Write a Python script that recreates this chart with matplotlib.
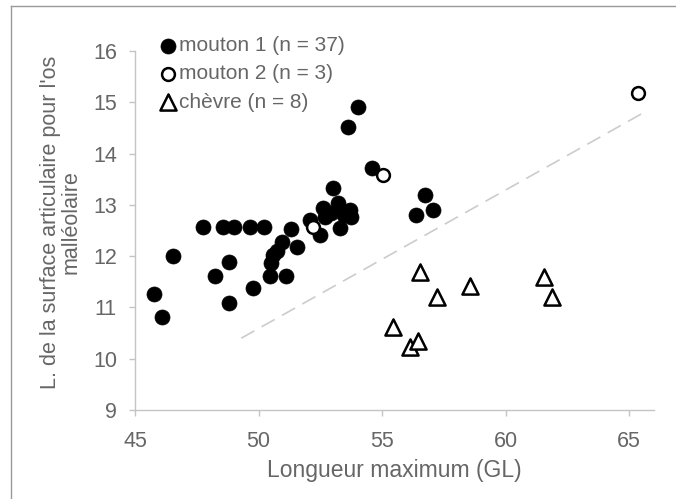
import matplotlib
matplotlib.use("Agg")
import matplotlib.pyplot as plt
from matplotlib.lines import Line2D

plt.rcParams["font.family"] = ["Liberation Sans", "DejaVu Sans"]

# mouton 1 (n = 37)
m1_x = [45.75, 46.08, 46.52, 47.76, 48.57, 49.00, 49.65, 50.22, 48.23, 48.80,
        48.80, 49.78, 50.45, 51.13, 50.52, 50.59, 50.93, 51.33, 51.57, 52.47,
        52.60, 53.01, 53.20, 53.69, 53.75, 53.28, 52.68, 52.07, 54.02, 53.62,
        54.60, 56.72, 56.38, 57.05, 52.95, 53.45, 50.75]
m1_y = [11.27, 10.82, 12.00, 12.56, 12.56, 12.56, 12.56, 12.56, 11.61, 11.89,
        11.09, 11.38, 11.61, 11.61, 11.86, 12.02, 12.28, 12.53, 12.17, 12.41,
        12.93, 13.32, 13.03, 12.90, 12.77, 12.54, 12.77, 12.70, 14.91, 14.51,
        13.71, 13.19, 12.80, 12.90, 12.85, 12.80, 12.10]

# mouton 2 (n = 3)
m2_x = [52.20, 55.03, 65.36]
m2_y = [12.57, 13.58, 15.19]

# chevre (n = 8)
ch_x = [56.54, 57.23, 58.56, 55.44, 56.11, 56.45, 61.53, 61.88]
ch_y = [11.70, 11.21, 11.42, 10.62, 10.23, 10.35, 11.60, 11.20]

# dashed separation line
dash_x = [49.3, 65.7]
dash_y = [10.40, 14.83]

xticks = [45, 50, 55, 60, 65]
yticks = [9, 10, 11, 12, 13, 14, 15, 16]

grey = "#c4c4c4"
txt = "#666666"

fig = plt.figure(figsize=(6.76, 4.99), dpi=100)
ax = fig.add_axes([135 / 676, 1 - 410 / 499, (654 - 135) / 676, (410 - 51) / 499])

ax.plot(dash_x, dash_y, color="#cccccc", lw=1.2, dashes=(9, 5), zorder=1)

ax.scatter(m1_x, m1_y, s=117, color="black", edgecolor="black", lw=0.5,
           label="mouton 1 (n = 37)", zorder=3)
ax.scatter(m2_x, m2_y, s=85, facecolor="white", edgecolor="black", lw=1.8,
           label="mouton 2 (n = 3)", zorder=4)
ax.scatter(ch_x, ch_y, s=135, marker="^", facecolor="white", edgecolor="black",
           lw=1.8, label="chèvre (n = 8)", zorder=4)

ax.set_xlim(45, 66)
ax.set_ylim(9, 16)
ax.set_xticks(xticks)
ax.set_yticks(yticks)

for s in ["top", "right"]:
    ax.spines[s].set_visible(False)
for s in ["left", "bottom"]:
    ax.spines[s].set_color(grey)
    ax.spines[s].set_linewidth(1)
ax.tick_params(colors=grey, labelcolor=txt, labelsize=15.5, length=4, width=1)
ax.tick_params(axis="x", pad=11)
ax.tick_params(axis="y", pad=9)

ax.set_xlabel("Longueur maximum (GL)", fontsize=16.5, color=txt, labelpad=5)
fig.text(61 / 676, 1 - 222 / 499,
         "L. de la surface articulaire pour l'os\nmalléolaire",
         rotation=90, ha="center", va="center", multialignment="center",
         fontsize=15.5, color=txt, linespacing=1.0)

ax.legend(loc="upper left", bbox_to_anchor=(158 / 676, 1 - 36 / 499),
          bbox_transform=fig.transFigure, frameon=False, fontsize=15,
          handletextpad=0.0, handlelength=1.0, labelspacing=0.45,
          borderaxespad=0, labelcolor=txt, borderpad=0)

# outer frame of the figure
fig.add_artist(Line2D([11 / 676, 1], [1 - 6 / 499, 1 - 6 / 499],
                      transform=fig.transFigure, color="#999999", lw=1))
fig.add_artist(Line2D([11 / 676, 11 / 676], [0, 1 - 6 / 499],
                      transform=fig.transFigure, color="#999999", lw=1))

fig.savefig("out.png", dpi=100)
